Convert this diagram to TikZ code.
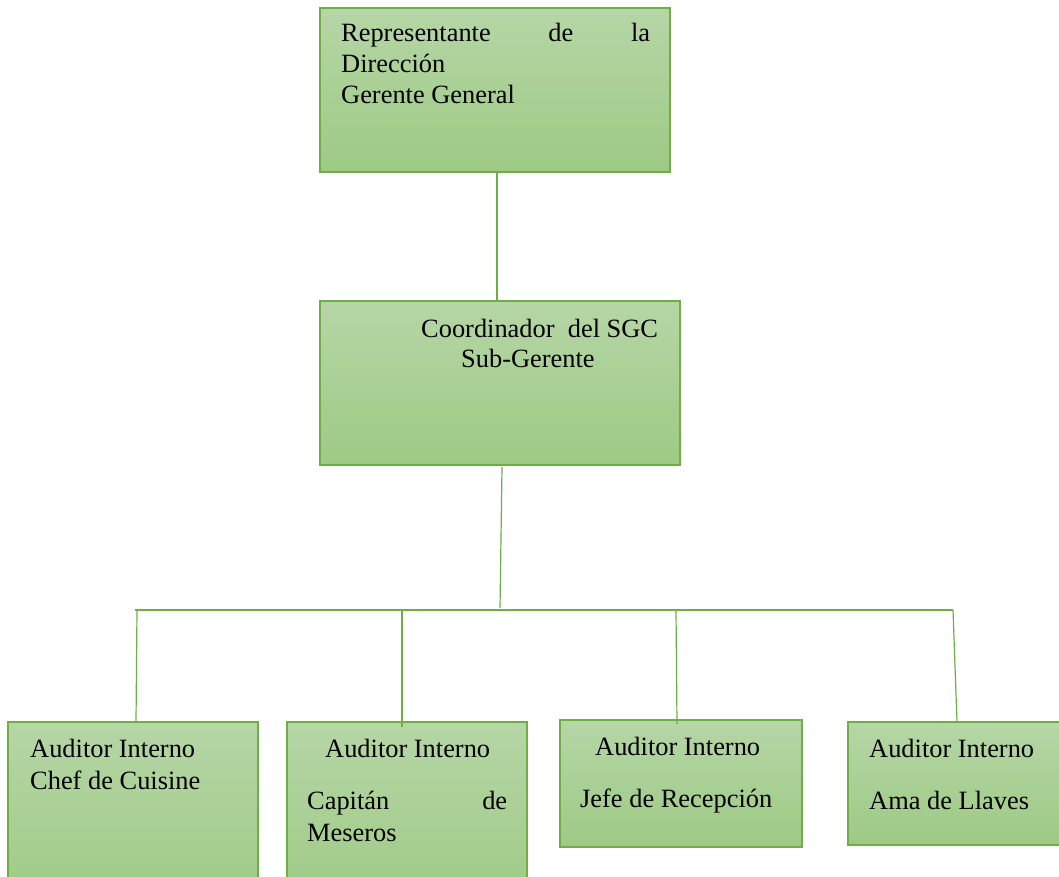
\documentclass[tikz,border=0pt]{standalone}
\usepackage{fontspec}
\setmainfont{Liberation Serif}
\definecolor{gtop}{HTML}{B6D6A6}
\definecolor{gbot}{HTML}{9DCA84}
\definecolor{gline}{HTML}{70AD47}
\begin{document}
\begin{tikzpicture}[x=1pt,y=-1pt,
  box/.style={draw=gline, line width=1.3pt, top color=gtop, bottom color=gbot, anchor=north west, inner sep=0pt, outer sep=0pt},
  lbl/.style={anchor=base west, inner sep=0pt, font=\fontsize{26.4}{32}\selectfont},
  conn/.style={draw=gline, line width=1.2pt}]
\useasboundingbox (0,0) rectangle (1059,877);
\clip (0,0) rectangle (1059,877);
% boxes
\node[box, minimum width=350pt, minimum height=164pt] (gg) at (320,8) {};
\node[box, minimum width=360pt, minimum height=164pt] (sg) at (320,301) {};
\node[box, minimum width=250pt, minimum height=190pt] (ba) at (8,722) {};
\node[box, minimum width=240pt, minimum height=190pt] (bb) at (287,722) {};
\node[box, minimum width=242pt, minimum height=127pt] (bc) at (560,720) {};
\node[box, minimum width=230pt, minimum height=123pt] (bd) at (848,722) {};
% texts
\node[lbl] (t1) at (341,42) {\makebox[309pt][s]{Representante\hfill de\hfill la}};
\node[lbl] (t2) at (341,73) {Dirección};
\node[lbl] (t3) at (341,104) {Gerente General};
\node[lbl] (t4) at (421,337) {Coordinador~~del SGC};
\node[lbl] (t5) at (461,367) {Sub-Gerente};
\node[lbl] (a1) at (30,757) {Auditor Interno};
\node[lbl] (a2) at (30,789) {Chef de Cuisine};
\node[lbl] (b1) at (325,757) {Auditor Interno};
\node[lbl] (b2) at (307,809) {\makebox[200pt][s]{Capitán\hfill de}};
\node[lbl] (b3) at (307,841) {Meseros};
\node[lbl] (c1) at (595,755) {Auditor Interno};
\node[lbl] (c2) at (580,807) {Jefe de Recepción};
\node[lbl] (d1) at (869,757) {Auditor Interno};
\node[lbl] (d2) at (869,809) {Ama de Llaves};
% connector points
\coordinate (j1t) at (497,176);
\coordinate (j1b) at (497,300);
\coordinate (j2t) at (502,467);
\coordinate (j2b) at (500,608);
\coordinate (hl) at (135,610);
\coordinate (hr) at (953,610);
\coordinate (pa) at (137,610);
\coordinate (pb) at (402,610);
\coordinate (pc) at (676,610);
\coordinate (pd) at (953,610);
% connectors
\draw[conn] (gg.south -| j1t) -- (sg.north -| j1t);
\draw[conn] (j2t) -- (j2b);
\draw[conn] (hl) -- (hr);
\draw[conn] (pa) -- (136,722);
\draw[conn] (pb) -- (402,727);
\draw[conn] (pc) -- (677,724);
\draw[conn] (pd) -- (957,722);
\end{tikzpicture}
\end{document}
